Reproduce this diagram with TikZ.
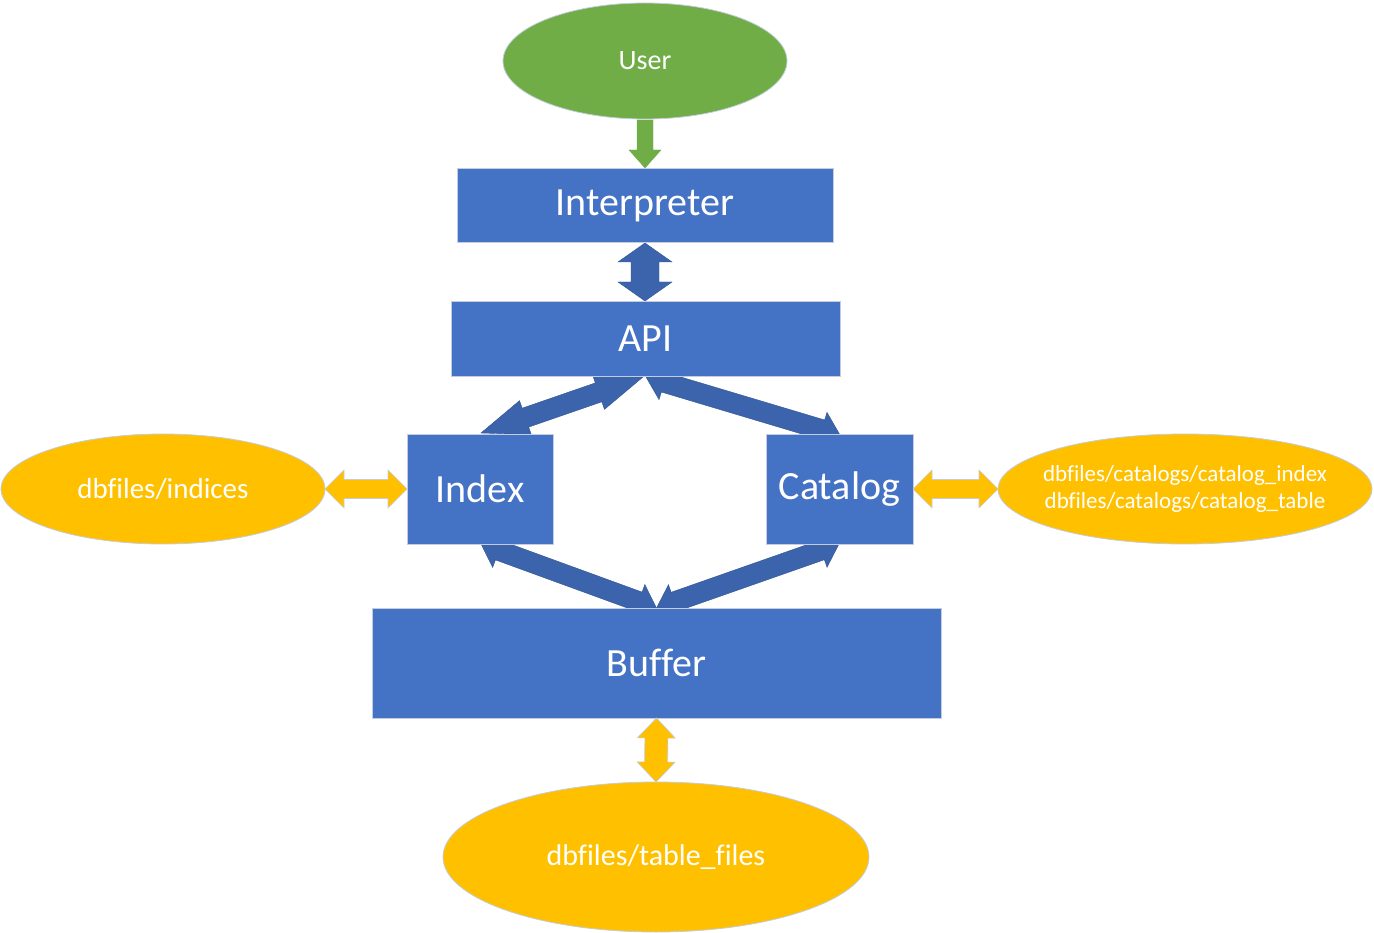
\documentclass[tikz,border=0pt]{standalone}
\usepackage{fontspec}
\setmainfont{Carlito}[Ligatures=CommonOff]
\usetikzlibrary{calc,shapes.geometric}
\definecolor{boxblue}{HTML}{4472C4}
\definecolor{arrblue}{HTML}{3C64AC}
\definecolor{gold}{HTML}{FFC000}
\definecolor{grn}{HTML}{70AD47}
\definecolor{rim}{HTML}{C4CCDD}
% double block arrow: style, A, B, shaft half, head half, head len at A, head len at B
\newcommand{\dblblock}[7]{%
\path[#1] (#2) -- ($(#2)!#6!(#3)!#5!90:(#3)$) -- ($(#2)!#6!(#3)!#4!90:(#3)$)
 -- ($(#3)!#7!(#2)!#4!-90:(#2)$) -- ($(#3)!#7!(#2)!#5!-90:(#2)$) -- (#3)
 -- ($(#3)!#7!(#2)!#5!90:(#2)$) -- ($(#3)!#7!(#2)!#4!90:(#2)$)
 -- ($(#2)!#6!(#3)!#4!-90:(#3)$) -- ($(#2)!#6!(#3)!#5!-90:(#3)$) -- cycle;}
% single block arrow: style, A, B, shaft half, head half, head len
\newcommand{\oneblock}[6]{%
\path[#1] ($(#2)!#4!90:(#3)$) -- ($(#3)!#6!(#2)!#4!-90:(#2)$) -- ($(#3)!#6!(#2)!#5!-90:(#2)$) -- (#3)
 -- ($(#3)!#6!(#2)!#5!90:(#2)$) -- ($(#3)!#6!(#2)!#4!90:(#2)$) -- ($(#2)!#4!-90:(#3)$) -- cycle;}
\begin{document}
\begin{tikzpicture}[x=1pt,y=-1pt,
  boxnode/.style={rectangle,fill=boxblue,draw=rim,line width=0.8pt,inner sep=0pt,outer sep=0pt,
    text=white,font=\fontsize{40}{48}\selectfont},
  filenode/.style={ellipse,fill=gold,draw=rim,line width=0.8pt,inner sep=0pt,outer sep=0pt,
    text=white,align=center},
  blue arrow/.style={fill=arrblue,draw=arrblue!85!black,line width=0.4pt},
  gold arrow/.style={fill=gold,draw=rim,line width=0.6pt},
  green arrow/.style={fill=grn,draw=grn,line width=0.4pt}]
\useasboundingbox (0,0) rectangle (1374,933);
\node[ellipse,fill=grn,draw=rim,line width=0.8pt,inner sep=0pt,outer sep=0pt,minimum width=284pt,minimum height=116pt,
  text=white,font=\fontsize{28}{34}\selectfont] (user) at (645,61) {User};
\coordinate (interpTop) at (645,168);
\coordinate (interpBot) at (645,243);
\coordinate (apiTop) at (645,301);
\coordinate (userBot) at (645,120);
% arrows first (boxes drawn over them)
\coordinate (idxN) at (481,433);
\coordinate (apiS1) at (643,377);
\coordinate (apiS2) at (646,377);
\coordinate (catN) at (840,435);
\coordinate (idxS) at (481,544);
\coordinate (catS) at (839,544);
\coordinate (bufN) at (656.5,608);
\dblblock{blue arrow}{idxN}{apiS1}{10pt}{18pt}{47pt}{47pt}
\dblblock{blue arrow}{apiS2}{catN}{10pt}{18pt}{19pt}{19pt}
\dblblock{blue arrow}{idxS}{bufN}{10pt}{18pt}{19pt}{19pt}
\dblblock{blue arrow}{catS}{bufN}{10pt}{18pt}{19pt}{19pt}
\dblblock{blue arrow}{interpBot}{apiTop}{14pt}{27pt}{19pt}{19pt}
\oneblock{green arrow}{userBot}{interpTop}{8pt}{16pt}{18pt}
% boxes
\node[boxnode,minimum width=376pt,minimum height=74pt] (interp) at (645,205.5) {Interpreter};
\node[boxnode,minimum width=389pt,minimum height=75pt] (api) at (645.5,338.5) {API};
\node[boxnode,minimum width=146pt,minimum height=110pt] (index) at (480,489) {Index};
\node[boxnode,minimum width=147pt,minimum height=110pt] (catalog) at (839.5,489) {Catalog};
\node[boxnode,minimum width=569pt,minimum height=110pt] (buffer) at (656.5,663) {Buffer};
% file ellipses
\node[filenode,minimum width=324pt,minimum height=110pt,font=\fontsize{29}{35}\selectfont] (indices) at (163,489) {dbfiles/indices};
\node[filenode,minimum width=374pt,minimum height=110pt] (catfiles) at (1185,489) {};
\node[text=white,align=center,inner sep=0pt,font=\fontsize{23}{27}\selectfont] (catfilestext) at (catfiles.center)
  {dbfiles/catalogs/catalog\_index\\dbfiles/catalogs/catalog\_table};
\node[filenode,minimum width=426pt,minimum height=150pt,font=\fontsize{30}{36}\selectfont] (tables) at (656,857) {dbfiles/table\_files};
% gold arrows
\dblblock{gold arrow}{indices.east}{index.west}{9.5pt}{19pt}{19pt}{19pt}
\dblblock{gold arrow}{catalog.east}{catfiles.west}{9.5pt}{19pt}{19pt}{19pt}
\dblblock{gold arrow}{buffer.south}{tables.north}{11.5pt}{19pt}{20pt}{20pt}
\end{tikzpicture}
\end{document}
